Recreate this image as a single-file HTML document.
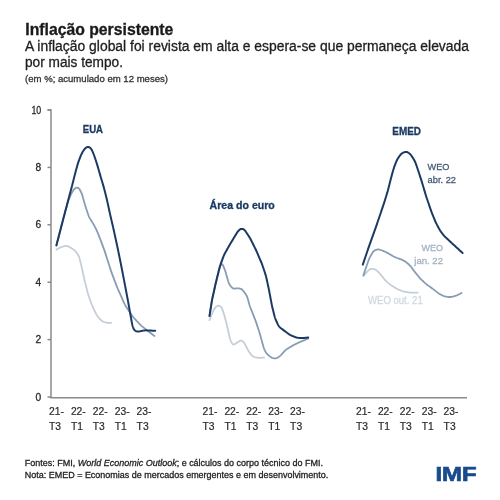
<!DOCTYPE html>
<html><head><meta charset="utf-8"><style>
html,body{margin:0;padding:0;background:#fff;width:500px;height:500px;overflow:hidden}
svg{display:block;font-family:"Liberation Sans",sans-serif;will-change:transform}
</style></head><body>
<svg width="500" height="500" viewBox="0 0 500 500">
<rect width="500" height="500" fill="#fff"/>
<path d="M47.5,110 H51 V397.8 H467" fill="none" stroke="#8a8a8a" stroke-width="1.5"/>
<path d="M47.5,110 H51" stroke="#8a8a8a" stroke-width="1.5"/><path d="M47.5,167.4 H51" stroke="#8a8a8a" stroke-width="1.5"/><path d="M47.5,224.8 H51" stroke="#8a8a8a" stroke-width="1.5"/><path d="M47.5,282.2 H51" stroke="#8a8a8a" stroke-width="1.5"/><path d="M47.5,339.6 H51" stroke="#8a8a8a" stroke-width="1.5"/><path d="M47.5,397 H51" stroke="#8a8a8a" stroke-width="1.5"/>
<path d="M56.40,249.60 L57.10,249.21 L57.79,248.81 L58.49,248.42 L59.19,248.04 L59.90,247.67 L60.62,247.33 L61.35,247.03 L62.10,246.75 L62.85,246.51 L63.62,246.29 L64.38,246.11 L65.15,245.98 L65.90,245.92 L66.65,245.97 L67.39,246.14 L68.12,246.39 L68.84,246.70 L69.54,247.06 L70.24,247.45 L70.92,247.86 L71.60,248.28 L72.27,248.72 L72.93,249.16 L73.59,249.62 L74.22,250.09 L74.82,250.60 L75.39,251.15 L75.91,251.73 L76.39,252.36 L76.86,253.01 L77.30,253.67 L77.73,254.34 L78.15,255.02 L78.53,255.71 L78.86,256.42 L79.15,257.16 L79.39,257.91 L79.61,258.68 L79.81,259.45 L80.01,260.23 L80.20,261.00 L80.39,261.78 L80.59,262.55 L80.78,263.33 L80.98,264.11 L81.17,264.88 L81.36,265.66 L81.55,266.44 L81.73,267.22 L81.90,268.00 L82.08,268.78 L82.25,269.56 L82.42,270.34 L82.58,271.12 L82.75,271.91 L82.92,272.69 L83.09,273.47 L83.25,274.25 L83.42,275.04 L83.59,275.82 L83.76,276.60 L83.93,277.38 L84.10,278.16 L84.27,278.94 L84.45,279.72 L84.64,280.50 L84.82,281.28 L85.02,282.06 L85.21,282.83 L85.40,283.61 L85.60,284.38 L85.79,285.16 L85.98,285.94 L86.18,286.71 L86.37,287.49 L86.57,288.27 L86.76,289.04 L86.95,289.82 L87.15,290.59 L87.35,291.37 L87.54,292.14 L87.75,292.92 L87.97,293.68 L88.20,294.45 L88.45,295.21 L88.71,295.97 L88.97,296.72 L89.24,297.47 L89.51,298.23 L89.78,298.98 L90.05,299.73 L90.32,300.49 L90.59,301.24 L90.86,301.99 L91.12,302.75 L91.39,303.50 L91.67,304.25 L91.94,305.00 L92.23,305.75 L92.53,306.49 L92.86,307.22 L93.19,307.94 L93.54,308.66 L93.89,309.38 L94.25,310.10 L94.61,310.81 L94.96,311.53 L95.32,312.24 L95.68,312.96 L96.05,313.67 L96.43,314.37 L96.83,315.06 L97.26,315.72 L97.72,316.37 L98.20,317.01 L98.70,317.63 L99.21,318.25 L99.73,318.85 L100.25,319.45 L100.80,320.01 L101.39,320.52 L102.02,320.98 L102.69,321.37 L103.40,321.71 L104.13,322.01 L104.87,322.27 L105.63,322.48 L106.40,322.63 L107.18,322.72 L107.97,322.77 L108.74,322.79 L109.49,322.80 L110.20,322.80 L110.87,322.80 L111.20,322.80" fill="none" stroke="#c5ced8" stroke-width="1.8" stroke-linecap="round" stroke-linejoin="round"/><path d="M209.50,320.20 L209.78,319.45 L210.07,318.70 L210.35,317.96 L210.64,317.21 L210.92,316.46 L211.21,315.71 L211.50,314.97 L211.78,314.22 L212.08,313.48 L212.39,312.75 L212.73,312.02 L213.09,311.31 L213.48,310.62 L213.88,309.93 L214.30,309.25 L214.73,308.58 L215.17,307.92 L215.65,307.31 L216.17,306.75 L216.74,306.28 L217.37,305.92 L218.03,305.71 L218.69,305.67 L219.34,305.81 L219.95,306.12 L220.52,306.57 L221.04,307.11 L221.50,307.73 L221.90,308.39 L222.23,309.10 L222.52,309.83 L222.79,310.58 L223.05,311.34 L223.30,312.10 L223.55,312.86 L223.80,313.62 L224.05,314.38 L224.29,315.14 L224.52,315.90 L224.74,316.67 L224.95,317.44 L225.15,318.22 L225.35,318.99 L225.54,319.77 L225.74,320.55 L225.93,321.32 L226.12,322.10 L226.32,322.87 L226.51,323.65 L226.71,324.43 L226.90,325.20 L227.09,325.98 L227.28,326.76 L227.46,327.54 L227.64,328.32 L227.82,329.10 L227.99,329.88 L228.17,330.66 L228.34,331.44 L228.52,332.22 L228.69,333.00 L228.86,333.78 L229.04,334.56 L229.21,335.34 L229.38,336.12 L229.56,336.90 L229.74,337.68 L229.94,338.45 L230.17,339.21 L230.43,339.97 L230.72,340.70 L231.04,341.43 L231.39,342.15 L231.75,342.84 L232.12,343.48 L232.53,344.01 L232.98,344.38 L233.49,344.52 L234.06,344.44 L234.67,344.19 L235.32,343.83 L235.97,343.41 L236.64,342.97 L237.30,342.53 L237.97,342.09 L238.63,341.65 L239.30,341.25 L239.95,340.90 L240.60,340.66 L241.23,340.60 L241.83,340.73 L242.42,341.04 L242.97,341.50 L243.50,342.05 L243.99,342.66 L244.43,343.31 L244.84,343.98 L245.22,344.68 L245.59,345.39 L245.95,346.10 L246.31,346.82 L246.67,347.53 L247.03,348.25 L247.39,348.96 L247.76,349.67 L248.15,350.36 L248.56,351.05 L249.00,351.71 L249.45,352.37 L249.92,353.02 L250.40,353.66 L250.88,354.29 L251.38,354.90 L251.91,355.47 L252.47,355.98 L253.10,356.41 L253.77,356.75 L254.50,357.02 L255.25,357.24 L256.02,357.43 L256.80,357.60 L257.58,357.72 L258.37,357.80 L259.16,357.83 L259.95,357.81 L260.74,357.77 L261.51,357.71 L262.27,357.65 L262.98,357.59 L263.67,357.53 L264.00,357.50" fill="none" stroke="#c5ced8" stroke-width="1.8" stroke-linecap="round" stroke-linejoin="round"/><path d="M363.40,276.00 L363.91,275.39 L364.43,274.77 L364.94,274.16 L365.46,273.55 L365.98,272.95 L366.52,272.35 L367.07,271.77 L367.62,271.20 L368.19,270.65 L368.77,270.13 L369.39,269.66 L370.03,269.29 L370.73,269.02 L371.46,268.86 L372.22,268.81 L372.97,268.85 L373.72,269.00 L374.45,269.23 L375.16,269.55 L375.85,269.93 L376.51,270.36 L377.13,270.84 L377.72,271.36 L378.28,271.92 L378.82,272.51 L379.34,273.11 L379.86,273.72 L380.38,274.33 L380.89,274.94 L381.40,275.56 L381.90,276.18 L382.40,276.81 L382.90,277.43 L383.40,278.05 L383.91,278.67 L384.42,279.29 L384.94,279.89 L385.48,280.48 L386.04,281.04 L386.63,281.57 L387.24,282.09 L387.85,282.60 L388.48,283.10 L389.10,283.60 L389.73,284.10 L390.36,284.59 L391.00,285.07 L391.65,285.53 L392.31,285.98 L392.98,286.41 L393.66,286.83 L394.34,287.24 L395.03,287.66 L395.72,288.06 L396.41,288.46 L397.11,288.84 L397.83,289.20 L398.55,289.54 L399.28,289.85 L400.02,290.16 L400.76,290.46 L401.51,290.75 L402.25,291.03 L403.01,291.28 L403.77,291.51 L404.54,291.70 L405.32,291.86 L406.11,292.01 L406.90,292.14 L407.69,292.27 L408.48,292.38 L409.27,292.47 L410.06,292.53 L410.86,292.57 L411.66,292.59 L412.46,292.60 L413.26,292.60 L414.06,292.60 L414.85,292.60 L415.65,292.60 L416.43,292.60 L417.21,292.60 L417.60,292.60" fill="none" stroke="#c5ced8" stroke-width="1.8" stroke-linecap="round" stroke-linejoin="round"/><path d="M56.40,245.40 L56.60,244.63 L56.80,243.85 L57.00,243.08 L57.20,242.30 L57.41,241.53 L57.61,240.75 L57.81,239.98 L58.01,239.21 L58.21,238.43 L58.41,237.66 L58.61,236.88 L58.81,236.11 L59.02,235.33 L59.22,234.56 L59.42,233.79 L59.62,233.01 L59.82,232.24 L60.02,231.46 L60.22,230.69 L60.42,229.91 L60.63,229.14 L60.83,228.37 L61.03,227.59 L61.23,226.82 L61.43,226.04 L61.63,225.27 L61.83,224.49 L62.03,223.72 L62.24,222.95 L62.44,222.17 L62.64,221.40 L62.84,220.62 L63.04,219.85 L63.24,219.07 L63.44,218.30 L63.64,217.53 L63.85,216.75 L64.05,215.98 L64.26,215.21 L64.47,214.43 L64.68,213.66 L64.89,212.89 L65.11,212.12 L65.32,211.35 L65.54,210.58 L65.75,209.81 L65.97,209.04 L66.18,208.27 L66.40,207.50 L66.62,206.73 L66.83,205.96 L67.05,205.19 L67.26,204.42 L67.48,203.65 L67.70,202.88 L67.92,202.11 L68.15,201.34 L68.40,200.58 L68.66,199.83 L68.95,199.09 L69.26,198.35 L69.58,197.62 L69.90,196.89 L70.23,196.16 L70.56,195.43 L70.89,194.70 L71.23,193.98 L71.57,193.26 L71.94,192.55 L72.32,191.85 L72.74,191.18 L73.19,190.52 L73.66,189.88 L74.16,189.27 L74.70,188.72 L75.28,188.24 L75.91,187.88 L76.57,187.66 L77.24,187.62 L77.89,187.77 L78.48,188.10 L79.00,188.58 L79.46,189.17 L79.87,189.83 L80.25,190.52 L80.61,191.23 L80.96,191.95 L81.30,192.67 L81.62,193.40 L81.92,194.14 L82.19,194.89 L82.43,195.65 L82.65,196.42 L82.87,197.19 L83.08,197.96 L83.29,198.73 L83.50,199.50 L83.71,200.27 L83.92,201.04 L84.13,201.82 L84.34,202.59 L84.56,203.36 L84.78,204.13 L85.00,204.89 L85.24,205.66 L85.48,206.42 L85.73,207.18 L85.98,207.94 L86.23,208.70 L86.49,209.46 L86.74,210.22 L86.99,210.98 L87.25,211.74 L87.50,212.49 L87.75,213.25 L88.01,214.01 L88.27,214.77 L88.54,215.52 L88.83,216.26 L89.16,216.98 L89.51,217.69 L89.90,218.39 L90.31,219.07 L90.73,219.76 L91.15,220.44 L91.57,221.11 L91.99,221.79 L92.42,222.47 L92.84,223.15 L93.25,223.84 L93.66,224.52 L94.05,225.22 L94.43,225.92 L94.80,226.63 L95.17,227.34 L95.53,228.06 L95.88,228.77 L96.23,229.49 L96.58,230.21 L96.91,230.94 L97.24,231.67 L97.55,232.41 L97.85,233.15 L98.15,233.89 L98.45,234.63 L98.75,235.37 L99.05,236.12 L99.34,236.86 L99.64,237.60 L99.94,238.34 L100.23,239.09 L100.53,239.83 L100.82,240.58 L101.10,241.32 L101.38,242.07 L101.66,242.82 L101.94,243.57 L102.21,244.33 L102.48,245.08 L102.76,245.83 L103.03,246.58 L103.30,247.33 L103.58,248.08 L103.85,248.84 L104.12,249.59 L104.39,250.34 L104.66,251.10 L104.92,251.85 L105.18,252.61 L105.43,253.37 L105.67,254.13 L105.91,254.89 L106.15,255.66 L106.40,256.42 L106.64,257.18 L106.88,257.94 L107.12,258.71 L107.36,259.47 L107.60,260.23 L107.84,261.00 L108.08,261.76 L108.32,262.52 L108.56,263.28 L108.80,264.05 L109.05,264.81 L109.29,265.57 L109.53,266.34 L109.77,267.10 L110.01,267.86 L110.25,268.62 L110.50,269.39 L110.75,270.15 L111.00,270.90 L111.27,271.66 L111.54,272.41 L111.81,273.16 L112.09,273.91 L112.37,274.66 L112.65,275.41 L112.93,276.16 L113.22,276.91 L113.50,277.66 L113.78,278.41 L114.06,279.15 L114.34,279.90 L114.62,280.65 L114.90,281.40 L115.18,282.15 L115.46,282.90 L115.74,283.65 L116.03,284.40 L116.31,285.15 L116.60,285.89 L116.89,286.63 L117.20,287.37 L117.51,288.11 L117.82,288.85 L118.15,289.58 L118.47,290.31 L118.80,291.04 L119.12,291.77 L119.45,292.50 L119.77,293.23 L120.10,293.96 L120.42,294.70 L120.75,295.43 L121.07,296.16 L121.39,296.89 L121.72,297.62 L122.04,298.35 L122.37,299.08 L122.69,299.81 L123.02,300.54 L123.34,301.27 L123.67,302.01 L124.00,302.73 L124.34,303.46 L124.69,304.18 L125.06,304.88 L125.45,305.57 L125.87,306.26 L126.30,306.93 L126.73,307.60 L127.18,308.26 L127.62,308.93 L128.06,309.60 L128.51,310.26 L128.95,310.93 L129.40,311.59 L129.84,312.26 L130.28,312.92 L130.73,313.59 L131.17,314.25 L131.62,314.92 L132.07,315.57 L132.54,316.22 L133.02,316.86 L133.53,317.47 L134.05,318.08 L134.58,318.67 L135.13,319.26 L135.67,319.84 L136.22,320.42 L136.77,321.01 L137.32,321.59 L137.87,322.17 L138.42,322.75 L138.97,323.33 L139.52,323.91 L140.08,324.48 L140.65,325.04 L141.23,325.59 L141.83,326.12 L142.44,326.63 L143.06,327.14 L143.68,327.64 L144.30,328.14 L144.93,328.64 L145.55,329.14 L146.18,329.64 L146.80,330.14 L147.43,330.64 L148.06,331.13 L148.69,331.62 L149.32,332.11 L149.96,332.59 L150.60,333.07 L151.24,333.55 L151.87,334.03 L152.50,334.50 L153.10,334.95 L153.68,335.39 L154.23,335.80 L154.50,336.00" fill="none" stroke="#889db5" stroke-width="1.8" stroke-linecap="round" stroke-linejoin="round"/><path d="M209.50,316.00 L209.62,315.21 L209.75,314.42 L209.87,313.63 L209.99,312.84 L210.12,312.05 L210.24,311.26 L210.36,310.47 L210.49,309.68 L210.61,308.89 L210.74,308.10 L210.86,307.31 L210.98,306.52 L211.11,305.72 L211.23,304.93 L211.35,304.14 L211.48,303.35 L211.60,302.56 L211.73,301.77 L211.86,300.99 L212.00,300.20 L212.16,299.41 L212.32,298.63 L212.48,297.85 L212.65,297.07 L212.83,296.28 L213.00,295.50 L213.17,294.72 L213.35,293.94 L213.52,293.16 L213.69,292.38 L213.87,291.60 L214.04,290.82 L214.21,290.04 L214.39,289.26 L214.56,288.48 L214.73,287.69 L214.91,286.91 L215.08,286.13 L215.26,285.35 L215.43,284.57 L215.60,283.79 L215.78,283.01 L215.96,282.23 L216.15,281.45 L216.34,280.68 L216.53,279.90 L216.72,279.12 L216.91,278.35 L217.11,277.57 L217.30,276.79 L217.50,276.02 L217.69,275.24 L217.88,274.47 L218.08,273.69 L218.27,272.91 L218.47,272.14 L218.66,271.36 L218.85,270.58 L219.05,269.81 L219.25,269.03 L219.45,268.26 L219.67,267.50 L219.93,266.75 L220.23,266.03 L220.57,265.36 L220.95,264.77 L221.35,264.34 L221.74,264.12 L222.12,264.18 L222.47,264.50 L222.80,265.03 L223.13,265.67 L223.44,266.38 L223.76,267.11 L224.07,267.84 L224.37,268.58 L224.67,269.33 L224.94,270.08 L225.20,270.83 L225.44,271.59 L225.67,272.36 L225.89,273.13 L226.11,273.90 L226.33,274.67 L226.55,275.44 L226.77,276.20 L226.99,276.97 L227.21,277.74 L227.43,278.51 L227.65,279.28 L227.87,280.05 L228.09,280.82 L228.32,281.58 L228.57,282.34 L228.85,283.08 L229.17,283.79 L229.55,284.48 L229.98,285.14 L230.45,285.78 L230.94,286.40 L231.45,287.00 L231.97,287.55 L232.53,288.01 L233.14,288.35 L233.80,288.52 L234.51,288.56 L235.26,288.51 L236.03,288.41 L236.81,288.32 L237.59,288.28 L238.37,288.30 L239.15,288.39 L239.90,288.55 L240.64,288.79 L241.33,289.10 L241.96,289.51 L242.53,290.01 L243.05,290.57 L243.54,291.19 L244.01,291.83 L244.48,292.47 L244.94,293.12 L245.40,293.78 L245.85,294.44 L246.27,295.11 L246.65,295.80 L246.99,296.51 L247.27,297.25 L247.52,298.00 L247.75,298.77 L247.97,299.54 L248.18,300.31 L248.39,301.08 L248.61,301.85 L248.82,302.62 L249.03,303.39 L249.25,304.16 L249.47,304.93 L249.71,305.69 L249.96,306.45 L250.23,307.20 L250.51,307.95 L250.80,308.69 L251.10,309.44 L251.39,310.18 L251.69,310.92 L251.99,311.67 L252.28,312.41 L252.58,313.15 L252.88,313.90 L253.18,314.64 L253.47,315.38 L253.77,316.12 L254.07,316.87 L254.36,317.61 L254.66,318.35 L254.95,319.10 L255.23,319.85 L255.50,320.60 L255.77,321.35 L256.03,322.11 L256.29,322.87 L256.54,323.62 L256.79,324.38 L257.05,325.14 L257.30,325.90 L257.55,326.66 L257.81,327.42 L258.06,328.18 L258.31,328.94 L258.56,329.70 L258.82,330.46 L259.06,331.22 L259.31,331.98 L259.55,332.74 L259.77,333.51 L259.99,334.28 L260.21,335.05 L260.42,335.82 L260.63,336.59 L260.84,337.36 L261.05,338.13 L261.26,338.90 L261.48,339.68 L261.69,340.45 L261.90,341.22 L262.11,341.99 L262.32,342.76 L262.53,343.54 L262.74,344.31 L262.95,345.08 L263.17,345.85 L263.39,346.62 L263.63,347.38 L263.90,348.13 L264.19,348.87 L264.50,349.60 L264.84,350.33 L265.19,351.04 L265.56,351.74 L265.96,352.42 L266.41,353.06 L266.91,353.67 L267.46,354.24 L268.03,354.78 L268.63,355.32 L269.23,355.84 L269.83,356.36 L270.45,356.85 L271.09,357.30 L271.76,357.69 L272.46,358.00 L273.20,358.23 L273.95,358.38 L274.71,358.45 L275.46,358.42 L276.19,358.27 L276.90,358.02 L277.58,357.67 L278.25,357.26 L278.90,356.82 L279.54,356.34 L280.15,355.83 L280.73,355.29 L281.29,354.73 L281.84,354.14 L282.37,353.55 L282.91,352.96 L283.44,352.36 L283.97,351.77 L284.52,351.18 L285.07,350.61 L285.65,350.08 L286.26,349.57 L286.90,349.11 L287.57,348.67 L288.24,348.24 L288.93,347.83 L289.61,347.41 L290.30,347.00 L290.98,346.60 L291.67,346.19 L292.37,345.80 L293.07,345.41 L293.77,345.03 L294.48,344.67 L295.20,344.30 L295.91,343.94 L296.63,343.59 L297.34,343.23 L298.06,342.88 L298.78,342.53 L299.51,342.19 L300.24,341.86 L300.97,341.55 L301.71,341.24 L302.45,340.94 L303.19,340.64 L303.93,340.34 L304.67,340.05 L305.41,339.74 L306.13,339.44 L306.84,339.13 L307.53,338.81 L308.20,338.50" fill="none" stroke="#889db5" stroke-width="1.8" stroke-linecap="round" stroke-linejoin="round"/><path d="M363.40,275.40 L363.65,274.64 L363.91,273.88 L364.16,273.12 L364.41,272.36 L364.66,271.61 L364.92,270.85 L365.17,270.09 L365.42,269.33 L365.68,268.57 L365.93,267.81 L366.19,267.05 L366.45,266.30 L366.71,265.54 L366.98,264.79 L367.25,264.03 L367.51,263.28 L367.78,262.53 L368.05,261.77 L368.32,261.02 L368.60,260.27 L368.88,259.52 L369.18,258.78 L369.50,258.06 L369.85,257.34 L370.22,256.63 L370.61,255.94 L371.01,255.24 L371.41,254.55 L371.82,253.86 L372.23,253.18 L372.66,252.52 L373.12,251.89 L373.63,251.32 L374.20,250.82 L374.84,250.40 L375.52,250.05 L376.24,249.76 L376.97,249.56 L377.71,249.46 L378.46,249.47 L379.22,249.58 L379.97,249.76 L380.73,249.99 L381.48,250.24 L382.23,250.52 L382.98,250.81 L383.71,251.12 L384.44,251.45 L385.16,251.79 L385.88,252.14 L386.59,252.50 L387.31,252.86 L388.02,253.23 L388.72,253.61 L389.42,253.99 L390.11,254.40 L390.80,254.81 L391.48,255.22 L392.16,255.64 L392.85,256.04 L393.55,256.43 L394.26,256.79 L394.98,257.12 L395.72,257.42 L396.46,257.72 L397.21,258.00 L397.96,258.28 L398.71,258.57 L399.46,258.85 L400.21,259.13 L400.95,259.41 L401.70,259.70 L402.43,260.01 L403.16,260.34 L403.86,260.70 L404.55,261.10 L405.23,261.52 L405.89,261.97 L406.53,262.43 L407.16,262.93 L407.76,263.45 L408.35,263.98 L408.92,264.54 L409.48,265.11 L410.03,265.69 L410.56,266.28 L411.07,266.90 L411.57,267.52 L412.05,268.16 L412.52,268.81 L412.98,269.46 L413.45,270.11 L413.92,270.75 L414.40,271.40 L414.88,272.03 L415.38,272.66 L415.88,273.28 L416.39,273.90 L416.90,274.52 L417.41,275.13 L417.92,275.75 L418.43,276.36 L418.95,276.97 L419.46,277.58 L419.99,278.19 L420.52,278.78 L421.08,279.35 L421.64,279.92 L422.22,280.46 L422.81,281.01 L423.40,281.54 L424.00,282.08 L424.59,282.61 L425.19,283.14 L425.80,283.67 L426.41,284.18 L427.03,284.68 L427.66,285.17 L428.31,285.64 L428.96,286.11 L429.61,286.57 L430.27,287.03 L430.92,287.49 L431.57,287.95 L432.22,288.42 L432.86,288.90 L433.50,289.38 L434.13,289.87 L434.76,290.37 L435.38,290.87 L436.01,291.36 L436.63,291.86 L437.27,292.35 L437.90,292.83 L438.56,293.28 L439.23,293.71 L439.92,294.11 L440.62,294.49 L441.33,294.86 L442.04,295.21 L442.76,295.56 L443.49,295.88 L444.22,296.17 L444.97,296.41 L445.74,296.59 L446.52,296.73 L447.31,296.83 L448.10,296.92 L448.89,296.98 L449.68,297.00 L450.47,296.98 L451.25,296.90 L452.02,296.76 L452.79,296.57 L453.56,296.36 L454.33,296.13 L455.09,295.89 L455.85,295.64 L456.59,295.36 L457.33,295.06 L458.06,294.74 L458.78,294.40 L459.49,294.05 L460.20,293.70 L460.90,293.35 L461.60,293.00" fill="none" stroke="#889db5" stroke-width="1.8" stroke-linecap="round" stroke-linejoin="round"/><path d="M56.40,245.40 L56.60,244.63 L56.80,243.85 L57.00,243.08 L57.20,242.30 L57.40,241.53 L57.60,240.75 L57.80,239.98 L58.00,239.20 L58.21,238.43 L58.41,237.66 L58.61,236.88 L58.81,236.11 L59.01,235.33 L59.21,234.56 L59.41,233.78 L59.61,233.01 L59.81,232.23 L60.01,231.46 L60.21,230.69 L60.41,229.91 L60.62,229.14 L60.82,228.36 L61.02,227.59 L61.22,226.82 L61.42,226.04 L61.62,225.27 L61.83,224.49 L62.03,223.72 L62.23,222.94 L62.43,222.17 L62.63,221.40 L62.83,220.62 L63.04,219.85 L63.24,219.07 L63.44,218.30 L63.64,217.53 L63.84,216.75 L64.05,215.98 L64.25,215.20 L64.45,214.43 L64.65,213.66 L64.86,212.88 L65.06,212.11 L65.26,211.33 L65.47,210.56 L65.67,209.79 L65.87,209.01 L66.07,208.24 L66.28,207.47 L66.48,206.69 L66.68,205.92 L66.89,205.14 L67.09,204.37 L67.29,203.60 L67.50,202.82 L67.70,202.05 L67.90,201.27 L68.11,200.50 L68.31,199.73 L68.52,198.95 L68.72,198.18 L68.93,197.41 L69.14,196.64 L69.34,195.86 L69.55,195.09 L69.76,194.32 L69.97,193.55 L70.18,192.77 L70.38,192.00 L70.59,191.23 L70.80,190.46 L71.01,189.68 L71.22,188.91 L71.42,188.14 L71.63,187.37 L71.83,186.59 L72.04,185.82 L72.23,185.04 L72.43,184.27 L72.63,183.49 L72.82,182.72 L73.02,181.94 L73.21,181.16 L73.40,180.39 L73.60,179.61 L73.79,178.84 L73.99,178.06 L74.18,177.28 L74.37,176.51 L74.57,175.73 L74.77,174.96 L74.97,174.18 L75.17,173.41 L75.38,172.63 L75.58,171.86 L75.79,171.09 L76.00,170.32 L76.21,169.55 L76.43,168.77 L76.64,168.00 L76.85,167.23 L77.06,166.46 L77.27,165.69 L77.48,164.92 L77.71,164.15 L77.94,163.39 L78.18,162.62 L78.44,161.87 L78.71,161.12 L78.99,160.37 L79.27,159.62 L79.55,158.87 L79.83,158.12 L80.12,157.37 L80.41,156.63 L80.71,155.89 L81.03,155.15 L81.37,154.43 L81.72,153.72 L82.09,153.01 L82.47,152.31 L82.86,151.61 L83.27,150.92 L83.69,150.25 L84.15,149.61 L84.65,148.99 L85.18,148.42 L85.76,147.91 L86.38,147.49 L87.04,147.18 L87.73,147.03 L88.42,147.05 L89.10,147.24 L89.74,147.59 L90.32,148.05 L90.84,148.61 L91.32,149.23 L91.74,149.89 L92.13,150.58 L92.47,151.30 L92.79,152.03 L93.10,152.76 L93.39,153.51 L93.68,154.25 L93.96,155.00 L94.23,155.76 L94.50,156.51 L94.75,157.27 L95.01,158.03 L95.26,158.78 L95.51,159.54 L95.77,160.30 L96.02,161.06 L96.27,161.82 L96.52,162.58 L96.77,163.34 L97.00,164.11 L97.24,164.87 L97.46,165.64 L97.69,166.41 L97.91,167.18 L98.13,167.94 L98.35,168.71 L98.57,169.48 L98.79,170.25 L99.01,171.02 L99.23,171.79 L99.45,172.56 L99.67,173.33 L99.89,174.10 L100.11,174.87 L100.34,175.63 L100.56,176.40 L100.79,177.17 L101.02,177.93 L101.24,178.70 L101.47,179.47 L101.70,180.24 L101.93,181.00 L102.15,181.77 L102.38,182.54 L102.61,183.30 L102.84,184.07 L103.06,184.84 L103.29,185.61 L103.51,186.37 L103.73,187.14 L103.95,187.91 L104.16,188.69 L104.36,189.46 L104.56,190.23 L104.75,191.01 L104.95,191.79 L105.14,192.56 L105.33,193.34 L105.53,194.11 L105.72,194.89 L105.92,195.67 L106.11,196.44 L106.30,197.22 L106.50,198.00 L106.69,198.77 L106.87,199.55 L107.05,200.33 L107.23,201.11 L107.40,201.89 L107.57,202.67 L107.74,203.45 L107.91,204.24 L108.08,205.02 L108.25,205.80 L108.42,206.58 L108.59,207.36 L108.75,208.15 L108.92,208.93 L109.09,209.71 L109.26,210.49 L109.43,211.27 L109.60,212.06 L109.77,212.84 L109.95,213.62 L110.13,214.40 L110.30,215.18 L110.48,215.96 L110.66,216.74 L110.84,217.52 L111.02,218.29 L111.20,219.07 L111.38,219.85 L111.57,220.63 L111.75,221.41 L111.93,222.19 L112.11,222.97 L112.29,223.75 L112.47,224.53 L112.65,225.31 L112.83,226.09 L113.01,226.87 L113.19,227.65 L113.36,228.43 L113.54,229.21 L113.71,229.99 L113.89,230.77 L114.06,231.55 L114.23,232.33 L114.40,233.12 L114.57,233.90 L114.74,234.68 L114.91,235.46 L115.08,236.24 L115.25,237.02 L115.43,237.80 L115.60,238.59 L115.77,239.37 L115.94,240.15 L116.11,240.93 L116.28,241.71 L116.45,242.49 L116.62,243.28 L116.79,244.06 L116.96,244.84 L117.12,245.62 L117.29,246.41 L117.45,247.19 L117.61,247.97 L117.77,248.76 L117.93,249.54 L118.10,250.32 L118.26,251.11 L118.42,251.89 L118.58,252.67 L118.74,253.46 L118.90,254.24 L119.06,255.02 L119.23,255.81 L119.39,256.59 L119.55,257.37 L119.71,258.16 L119.87,258.94 L120.03,259.73 L120.19,260.51 L120.35,261.29 L120.51,262.08 L120.66,262.86 L120.82,263.65 L120.97,264.43 L121.13,265.22 L121.28,266.00 L121.43,266.79 L121.58,267.57 L121.74,268.36 L121.89,269.14 L122.04,269.93 L122.19,270.71 L122.35,271.50 L122.50,272.28 L122.65,273.07 L122.81,273.86 L122.96,274.64 L123.11,275.43 L123.26,276.21 L123.42,277.00 L123.57,277.78 L123.72,278.57 L123.87,279.35 L124.02,280.14 L124.17,280.92 L124.33,281.71 L124.48,282.50 L124.63,283.28 L124.77,284.07 L124.92,284.85 L125.07,285.64 L125.22,286.42 L125.37,287.21 L125.52,288.00 L125.67,288.78 L125.82,289.57 L125.97,290.35 L126.12,291.14 L126.27,291.93 L126.42,292.71 L126.57,293.50 L126.72,294.28 L126.87,295.07 L127.02,295.86 L127.17,296.64 L127.32,297.43 L127.47,298.21 L127.62,299.00 L127.77,299.79 L127.91,300.57 L128.06,301.36 L128.20,302.15 L128.34,302.93 L128.48,303.72 L128.62,304.51 L128.76,305.30 L128.90,306.08 L129.04,306.87 L129.18,307.66 L129.31,308.45 L129.45,309.24 L129.59,310.02 L129.73,310.81 L129.87,311.60 L130.01,312.39 L130.15,313.17 L130.29,313.96 L130.43,314.75 L130.57,315.54 L130.71,316.33 L130.85,317.11 L130.99,317.90 L131.13,318.69 L131.28,319.47 L131.42,320.26 L131.57,321.05 L131.72,321.83 L131.87,322.62 L132.02,323.40 L132.18,324.19 L132.35,324.97 L132.54,325.74 L132.76,326.51 L133.02,327.26 L133.30,328.00 L133.62,328.71 L134.00,329.38 L134.45,329.99 L134.98,330.51 L135.59,330.92 L136.27,331.21 L136.99,331.38 L137.75,331.45 L138.53,331.45 L139.31,331.38 L140.10,331.27 L140.88,331.12 L141.66,330.95 L142.44,330.78 L143.22,330.62 L144.00,330.48 L144.78,330.40 L145.57,330.36 L146.36,330.36 L147.16,330.40 L147.96,330.44 L148.76,330.50 L149.55,330.54 L150.35,330.58 L151.15,330.61 L151.94,330.63 L152.72,330.65 L153.48,330.67 L154.19,330.68 L154.87,330.69 L155.20,330.70" fill="none" stroke="#1b3a63" stroke-width="2.0" stroke-linecap="round" stroke-linejoin="round"/><path d="M209.50,316.00 L209.62,315.21 L209.75,314.42 L209.87,313.63 L209.99,312.84 L210.12,312.05 L210.24,311.26 L210.36,310.47 L210.49,309.68 L210.61,308.89 L210.74,308.10 L210.86,307.31 L210.98,306.52 L211.11,305.72 L211.23,304.93 L211.35,304.14 L211.48,303.35 L211.60,302.56 L211.73,301.77 L211.86,300.99 L212.00,300.20 L212.16,299.41 L212.32,298.63 L212.48,297.85 L212.65,297.07 L212.83,296.28 L213.00,295.50 L213.17,294.72 L213.35,293.94 L213.52,293.16 L213.69,292.38 L213.87,291.60 L214.04,290.82 L214.21,290.04 L214.39,289.26 L214.56,288.48 L214.73,287.69 L214.91,286.91 L215.08,286.13 L215.26,285.35 L215.43,284.57 L215.60,283.79 L215.78,283.01 L215.96,282.23 L216.15,281.45 L216.34,280.68 L216.53,279.90 L216.72,279.12 L216.91,278.35 L217.11,277.57 L217.30,276.79 L217.50,276.02 L217.69,275.24 L217.88,274.47 L218.08,273.69 L218.27,272.91 L218.47,272.14 L218.66,271.36 L218.85,270.58 L219.05,269.81 L219.24,269.03 L219.44,268.26 L219.64,267.48 L219.86,266.71 L220.08,265.95 L220.33,265.19 L220.58,264.43 L220.85,263.68 L221.12,262.92 L221.39,262.17 L221.67,261.42 L221.94,260.67 L222.21,259.92 L222.49,259.16 L222.76,258.41 L223.04,257.66 L223.32,256.91 L223.61,256.17 L223.92,255.43 L224.25,254.71 L224.60,253.99 L224.97,253.28 L225.35,252.58 L225.73,251.88 L226.12,251.18 L226.51,250.48 L226.90,249.78 L227.29,249.08 L227.68,248.38 L228.07,247.69 L228.46,246.99 L228.86,246.29 L229.26,245.60 L229.66,244.91 L230.07,244.22 L230.48,243.54 L230.89,242.85 L231.30,242.16 L231.71,241.48 L232.13,240.79 L232.54,240.11 L232.95,239.42 L233.36,238.73 L233.77,238.05 L234.18,237.36 L234.59,236.68 L235.01,235.99 L235.42,235.30 L235.83,234.62 L236.24,233.93 L236.66,233.25 L237.09,232.58 L237.54,231.92 L238.02,231.30 L238.53,230.70 L239.09,230.16 L239.69,229.67 L240.31,229.27 L240.98,229.00 L241.67,228.87 L242.37,228.89 L243.05,229.07 L243.70,229.39 L244.28,229.84 L244.80,230.38 L245.28,230.99 L245.74,231.63 L246.19,232.29 L246.64,232.95 L247.08,233.62 L247.52,234.29 L247.97,234.95 L248.41,235.62 L248.85,236.29 L249.28,236.96 L249.70,237.64 L250.10,238.33 L250.48,239.03 L250.86,239.74 L251.22,240.45 L251.58,241.16 L251.94,241.88 L252.30,242.59 L252.65,243.31 L253.01,244.02 L253.37,244.74 L253.73,245.46 L254.09,246.17 L254.44,246.89 L254.80,247.60 L255.15,248.32 L255.50,249.04 L255.85,249.76 L256.18,250.49 L256.51,251.22 L256.83,251.95 L257.15,252.68 L257.46,253.42 L257.78,254.15 L258.10,254.89 L258.41,255.62 L258.73,256.36 L259.04,257.09 L259.36,257.83 L259.67,258.57 L259.99,259.30 L260.30,260.04 L260.62,260.77 L260.93,261.51 L261.24,262.24 L261.54,262.98 L261.84,263.73 L262.12,264.47 L262.39,265.23 L262.65,265.98 L262.91,266.74 L263.17,267.50 L263.42,268.26 L263.67,269.02 L263.92,269.77 L264.18,270.53 L264.43,271.29 L264.68,272.05 L264.94,272.81 L265.19,273.57 L265.43,274.33 L265.67,275.10 L265.89,275.86 L266.09,276.63 L266.28,277.41 L266.46,278.19 L266.63,278.97 L266.80,279.75 L266.97,280.54 L267.14,281.32 L267.31,282.10 L267.47,282.88 L267.64,283.66 L267.81,284.45 L267.98,285.23 L268.15,286.01 L268.31,286.79 L268.48,287.58 L268.65,288.36 L268.81,289.14 L268.97,289.93 L269.12,290.71 L269.28,291.50 L269.43,292.28 L269.57,293.07 L269.72,293.85 L269.87,294.64 L270.02,295.43 L270.16,296.21 L270.31,297.00 L270.46,297.78 L270.61,298.57 L270.75,299.36 L270.90,300.14 L271.05,300.93 L271.20,301.72 L271.34,302.50 L271.49,303.29 L271.64,304.07 L271.80,304.86 L271.96,305.64 L272.13,306.42 L272.31,307.20 L272.50,307.98 L272.69,308.76 L272.88,309.53 L273.08,310.31 L273.27,311.09 L273.47,311.86 L273.66,312.64 L273.85,313.41 L274.05,314.19 L274.24,314.96 L274.44,315.74 L274.65,316.51 L274.88,317.28 L275.13,318.03 L275.40,318.78 L275.70,319.52 L276.01,320.26 L276.32,320.99 L276.65,321.72 L276.97,322.46 L277.29,323.19 L277.62,323.91 L277.97,324.63 L278.33,325.33 L278.75,325.99 L279.22,326.60 L279.75,327.17 L280.33,327.69 L280.95,328.19 L281.58,328.68 L282.22,329.16 L282.86,329.64 L283.50,330.12 L284.14,330.60 L284.78,331.08 L285.42,331.56 L286.06,332.04 L286.70,332.52 L287.34,333.00 L287.98,333.47 L288.63,333.94 L289.29,334.38 L289.97,334.79 L290.67,335.17 L291.38,335.51 L292.11,335.83 L292.85,336.14 L293.59,336.44 L294.34,336.73 L295.08,337.01 L295.83,337.27 L296.59,337.49 L297.36,337.66 L298.14,337.79 L298.93,337.88 L299.73,337.93 L300.53,337.98 L301.32,338.00 L302.12,338.01 L302.92,337.99 L303.72,337.94 L304.51,337.88 L305.29,337.81 L306.06,337.73 L306.81,337.65 L307.51,337.57 L308.20,337.50" fill="none" stroke="#1b3a63" stroke-width="2.0" stroke-linecap="round" stroke-linejoin="round"/><path d="M362.80,264.60 L363.06,263.84 L363.32,263.09 L363.57,262.33 L363.83,261.57 L364.09,260.81 L364.35,260.06 L364.61,259.30 L364.86,258.54 L365.12,257.78 L365.38,257.03 L365.64,256.27 L365.90,255.51 L366.15,254.76 L366.41,254.00 L366.67,253.24 L366.93,252.48 L367.19,251.73 L367.44,250.97 L367.70,250.21 L367.96,249.45 L368.22,248.70 L368.48,247.94 L368.74,247.18 L369.00,246.43 L369.26,245.67 L369.53,244.92 L369.80,244.17 L370.07,243.41 L370.34,242.66 L370.61,241.91 L370.87,241.15 L371.14,240.40 L371.41,239.64 L371.68,238.89 L371.95,238.14 L372.22,237.38 L372.49,236.63 L372.76,235.88 L373.03,235.12 L373.30,234.37 L373.57,233.62 L373.83,232.86 L374.10,232.11 L374.37,231.36 L374.64,230.60 L374.91,229.85 L375.18,229.10 L375.45,228.34 L375.71,227.59 L375.98,226.83 L376.24,226.08 L376.50,225.32 L376.76,224.57 L377.02,223.81 L377.28,223.05 L377.54,222.29 L377.80,221.54 L378.06,220.78 L378.31,220.02 L378.57,219.27 L378.83,218.51 L379.09,217.75 L379.35,217.00 L379.61,216.24 L379.86,215.48 L380.12,214.72 L380.38,213.97 L380.63,213.21 L380.89,212.45 L381.14,211.69 L381.40,210.93 L381.65,210.17 L381.91,209.42 L382.16,208.66 L382.42,207.90 L382.67,207.14 L382.93,206.38 L383.18,205.62 L383.44,204.87 L383.69,204.11 L383.94,203.35 L384.19,202.59 L384.44,201.83 L384.68,201.06 L384.91,200.30 L385.15,199.53 L385.38,198.77 L385.62,198.00 L385.85,197.24 L386.08,196.47 L386.31,195.71 L386.55,194.94 L386.78,194.18 L387.01,193.41 L387.24,192.65 L387.47,191.88 L387.70,191.11 L387.91,190.34 L388.12,189.57 L388.32,188.80 L388.52,188.02 L388.72,187.25 L388.91,186.47 L389.11,185.69 L389.31,184.92 L389.50,184.14 L389.70,183.37 L389.89,182.59 L390.09,181.82 L390.28,181.04 L390.48,180.26 L390.67,179.49 L390.87,178.71 L391.07,177.94 L391.27,177.16 L391.48,176.39 L391.69,175.62 L391.91,174.85 L392.12,174.08 L392.34,173.31 L392.55,172.54 L392.77,171.77 L392.99,171.00 L393.21,170.23 L393.43,169.46 L393.66,168.69 L393.90,167.93 L394.15,167.18 L394.42,166.42 L394.71,165.68 L395.00,164.93 L395.30,164.19 L395.60,163.45 L395.90,162.71 L396.20,161.97 L396.51,161.23 L396.83,160.50 L397.16,159.78 L397.53,159.07 L397.93,158.38 L398.36,157.71 L398.80,157.05 L399.26,156.40 L399.73,155.75 L400.21,155.12 L400.72,154.52 L401.26,153.97 L401.86,153.48 L402.50,153.06 L403.19,152.69 L403.90,152.37 L404.63,152.11 L405.35,151.94 L406.06,151.89 L406.75,151.99 L407.44,152.23 L408.11,152.58 L408.76,152.99 L409.39,153.46 L409.99,153.97 L410.53,154.53 L411.04,155.13 L411.50,155.77 L411.94,156.43 L412.37,157.11 L412.79,157.78 L413.21,158.46 L413.63,159.15 L414.03,159.83 L414.42,160.53 L414.77,161.24 L415.10,161.97 L415.40,162.71 L415.69,163.45 L415.97,164.20 L416.25,164.95 L416.52,165.70 L416.79,166.46 L417.05,167.21 L417.31,167.97 L417.56,168.73 L417.82,169.49 L418.07,170.25 L418.32,171.01 L418.57,171.77 L418.82,172.53 L419.07,173.29 L419.32,174.05 L419.57,174.81 L419.82,175.57 L420.06,176.33 L420.31,177.09 L420.56,177.85 L420.81,178.61 L421.06,179.37 L421.31,180.13 L421.55,180.89 L421.78,181.66 L422.02,182.42 L422.25,183.19 L422.48,183.95 L422.70,184.72 L422.93,185.49 L423.16,186.26 L423.39,187.02 L423.61,187.79 L423.84,188.56 L424.07,189.32 L424.30,190.09 L424.53,190.86 L424.75,191.62 L424.98,192.39 L425.21,193.16 L425.44,193.92 L425.67,194.69 L425.90,195.46 L426.14,196.22 L426.38,196.98 L426.63,197.74 L426.89,198.50 L427.14,199.26 L427.40,200.01 L427.66,200.77 L427.92,201.53 L428.18,202.28 L428.44,203.04 L428.70,203.80 L428.95,204.56 L429.21,205.31 L429.47,206.07 L429.73,206.83 L429.99,207.58 L430.25,208.34 L430.51,209.10 L430.77,209.85 L431.03,210.61 L431.30,211.36 L431.58,212.11 L431.87,212.86 L432.16,213.60 L432.46,214.34 L432.76,215.08 L433.06,215.82 L433.37,216.57 L433.67,217.31 L433.97,218.05 L434.28,218.79 L434.58,219.53 L434.88,220.27 L435.19,221.01 L435.50,221.74 L435.83,222.47 L436.16,223.20 L436.52,223.91 L436.88,224.63 L437.25,225.33 L437.62,226.04 L438.00,226.75 L438.38,227.45 L438.76,228.16 L439.14,228.86 L439.54,229.55 L439.95,230.23 L440.38,230.90 L440.83,231.56 L441.30,232.21 L441.78,232.85 L442.26,233.49 L442.75,234.12 L443.25,234.75 L443.76,235.36 L444.29,235.95 L444.84,236.53 L445.41,237.09 L445.98,237.64 L446.57,238.19 L447.15,238.74 L447.73,239.28 L448.32,239.83 L448.90,240.38 L449.49,240.92 L450.07,241.47 L450.66,242.01 L451.24,242.56 L451.83,243.11 L452.41,243.65 L453.00,244.19 L453.59,244.74 L454.18,245.28 L454.77,245.82 L455.36,246.36 L455.95,246.90 L456.54,247.44 L457.13,247.98 L457.72,248.52 L458.30,249.06 L458.89,249.60 L459.48,250.14 L460.07,250.68 L460.65,251.22 L461.23,251.74 L461.79,252.25 L462.33,252.75 L462.60,253.00" fill="none" stroke="#1b3a63" stroke-width="2.0" stroke-linecap="round" stroke-linejoin="round"/>
<text x="25.3" y="34.6" font-size="15.6" font-weight="bold" fill="#1a1a1a" stroke="#1a1a1a" stroke-width="0.3" font-style="normal" textLength="148" lengthAdjust="spacingAndGlyphs">Inflação persistente</text><text x="25" y="51.4" font-size="13.8" font-weight="normal" fill="#1f1f1f" stroke="#1f1f1f" stroke-width="0.3" font-style="normal" textLength="444" lengthAdjust="spacingAndGlyphs">A inflação global foi revista em alta e espera-se que permaneça elevada</text><text x="25" y="66.8" font-size="13.8" font-weight="normal" fill="#1f1f1f" stroke="#1f1f1f" stroke-width="0.3" font-style="normal" textLength="98" lengthAdjust="spacingAndGlyphs">por mais tempo.</text><text x="25" y="81.8" font-size="9.6" font-weight="normal" fill="#333" stroke="#333" stroke-width="0.3" font-style="normal" textLength="143" lengthAdjust="spacingAndGlyphs">(em %; acumulado em 12 meses)</text><text x="41.2" y="113.6" font-size="10.2" fill="#2b2b2b" stroke="#2b2b2b" stroke-width="0.3" text-anchor="end" textLength="9.8" lengthAdjust="spacingAndGlyphs">10</text><text x="41.2" y="171.0" font-size="10.2" fill="#2b2b2b" stroke="#2b2b2b" stroke-width="0.3" text-anchor="end">8</text><text x="41.2" y="228.4" font-size="10.2" fill="#2b2b2b" stroke="#2b2b2b" stroke-width="0.3" text-anchor="end">6</text><text x="41.2" y="285.8" font-size="10.2" fill="#2b2b2b" stroke="#2b2b2b" stroke-width="0.3" text-anchor="end">4</text><text x="41.2" y="343.20000000000005" font-size="10.2" fill="#2b2b2b" stroke="#2b2b2b" stroke-width="0.3" text-anchor="end">2</text><text x="41.2" y="400.6" font-size="10.2" fill="#2b2b2b" stroke="#2b2b2b" stroke-width="0.3" text-anchor="end">0</text><text x="49.0" y="415.3" font-size="10.3" fill="#2b2b2b" stroke="#2b2b2b" stroke-width="0.2">21-</text><text x="49.0" y="430.4" font-size="10.3" fill="#2b2b2b" stroke="#2b2b2b" stroke-width="0.2">T3</text><text x="70.9" y="415.3" font-size="10.3" fill="#2b2b2b" stroke="#2b2b2b" stroke-width="0.2">22-</text><text x="70.9" y="430.4" font-size="10.3" fill="#2b2b2b" stroke="#2b2b2b" stroke-width="0.2">T1</text><text x="92.8" y="415.3" font-size="10.3" fill="#2b2b2b" stroke="#2b2b2b" stroke-width="0.2">22-</text><text x="92.8" y="430.4" font-size="10.3" fill="#2b2b2b" stroke="#2b2b2b" stroke-width="0.2">T3</text><text x="114.7" y="415.3" font-size="10.3" fill="#2b2b2b" stroke="#2b2b2b" stroke-width="0.2">23-</text><text x="114.7" y="430.4" font-size="10.3" fill="#2b2b2b" stroke="#2b2b2b" stroke-width="0.2">T1</text><text x="136.6" y="415.3" font-size="10.3" fill="#2b2b2b" stroke="#2b2b2b" stroke-width="0.2">23-</text><text x="136.6" y="430.4" font-size="10.3" fill="#2b2b2b" stroke="#2b2b2b" stroke-width="0.2">T3</text><text x="202.5" y="415.3" font-size="10.3" fill="#2b2b2b" stroke="#2b2b2b" stroke-width="0.2">21-</text><text x="202.5" y="430.4" font-size="10.3" fill="#2b2b2b" stroke="#2b2b2b" stroke-width="0.2">T3</text><text x="224.4" y="415.3" font-size="10.3" fill="#2b2b2b" stroke="#2b2b2b" stroke-width="0.2">22-</text><text x="224.4" y="430.4" font-size="10.3" fill="#2b2b2b" stroke="#2b2b2b" stroke-width="0.2">T1</text><text x="246.3" y="415.3" font-size="10.3" fill="#2b2b2b" stroke="#2b2b2b" stroke-width="0.2">22-</text><text x="246.3" y="430.4" font-size="10.3" fill="#2b2b2b" stroke="#2b2b2b" stroke-width="0.2">T3</text><text x="268.2" y="415.3" font-size="10.3" fill="#2b2b2b" stroke="#2b2b2b" stroke-width="0.2">23-</text><text x="268.2" y="430.4" font-size="10.3" fill="#2b2b2b" stroke="#2b2b2b" stroke-width="0.2">T1</text><text x="290.1" y="415.3" font-size="10.3" fill="#2b2b2b" stroke="#2b2b2b" stroke-width="0.2">23-</text><text x="290.1" y="430.4" font-size="10.3" fill="#2b2b2b" stroke="#2b2b2b" stroke-width="0.2">T3</text><text x="356.0" y="415.3" font-size="10.3" fill="#2b2b2b" stroke="#2b2b2b" stroke-width="0.2">21-</text><text x="356.0" y="430.4" font-size="10.3" fill="#2b2b2b" stroke="#2b2b2b" stroke-width="0.2">T3</text><text x="377.9" y="415.3" font-size="10.3" fill="#2b2b2b" stroke="#2b2b2b" stroke-width="0.2">22-</text><text x="377.9" y="430.4" font-size="10.3" fill="#2b2b2b" stroke="#2b2b2b" stroke-width="0.2">T1</text><text x="399.8" y="415.3" font-size="10.3" fill="#2b2b2b" stroke="#2b2b2b" stroke-width="0.2">22-</text><text x="399.8" y="430.4" font-size="10.3" fill="#2b2b2b" stroke="#2b2b2b" stroke-width="0.2">T3</text><text x="421.7" y="415.3" font-size="10.3" fill="#2b2b2b" stroke="#2b2b2b" stroke-width="0.2">23-</text><text x="421.7" y="430.4" font-size="10.3" fill="#2b2b2b" stroke="#2b2b2b" stroke-width="0.2">T1</text><text x="443.6" y="415.3" font-size="10.3" fill="#2b2b2b" stroke="#2b2b2b" stroke-width="0.2">23-</text><text x="443.6" y="430.4" font-size="10.3" fill="#2b2b2b" stroke="#2b2b2b" stroke-width="0.2">T3</text><text x="82.8" y="133.2" font-size="10.2" font-weight="bold" fill="#1b3a63" stroke="#1b3a63" stroke-width="0.3" font-style="normal" textLength="20.2" lengthAdjust="spacingAndGlyphs">EUA</text><text x="209.6" y="208.9" font-size="10" font-weight="bold" fill="#1b3a63" stroke="#1b3a63" stroke-width="0.3" font-style="normal" textLength="65.2" lengthAdjust="spacingAndGlyphs">Área do euro</text><text x="392.3" y="134.8" font-size="10.2" font-weight="bold" fill="#1b3a63" stroke="#1b3a63" stroke-width="0.3" font-style="normal" textLength="28.6" lengthAdjust="spacingAndGlyphs">EMED</text><text x="427.6" y="170.1" font-size="9.9" font-weight="normal" fill="#465a78" stroke="#465a78" stroke-width="0.3" font-style="normal" textLength="21.9" lengthAdjust="spacingAndGlyphs">WEO</text><text x="427.6" y="183.1" font-size="9.9" font-weight="normal" fill="#465a78" stroke="#465a78" stroke-width="0.3" font-style="normal" textLength="28.4" lengthAdjust="spacingAndGlyphs">abr. 22</text><text x="421.5" y="251" font-size="9.9" font-weight="normal" fill="#a4b2c2" stroke="#a4b2c2" stroke-width="0.3" font-style="normal" textLength="21.5" lengthAdjust="spacingAndGlyphs">WEO</text><text x="414.3" y="263.6" font-size="9.9" font-weight="normal" fill="#a4b2c2" stroke="#a4b2c2" stroke-width="0.3" font-style="normal" textLength="28.7" lengthAdjust="spacingAndGlyphs">jan. 22</text><text x="368" y="303.7" font-size="10" font-weight="normal" fill="#d0d8e0" stroke="#d0d8e0" stroke-width="0.3" font-style="normal" textLength="54.7" lengthAdjust="spacingAndGlyphs">WEO out. 21</text><text x="24.8" y="465.6" font-size="9.5" fill="#222" stroke="#222" stroke-width="0.3" textLength="298.2" lengthAdjust="spacingAndGlyphs">Fontes: FMI, <tspan font-style="italic">World Economic Outlook</tspan>; e cálculos do corpo técnico do FMI.</text><text x="24.8" y="477.6" font-size="9.5" font-weight="normal" fill="#222" stroke="#222" stroke-width="0.3" font-style="normal" textLength="303.5" lengthAdjust="spacingAndGlyphs">Nota: EMED = Economias de mercados emergentes e em desenvolvimento.</text><text x="435.4" y="480.6" font-size="21" font-weight="bold" fill="#184b8e" stroke="#184b8e" stroke-width="0.7" font-style="normal" textLength="41.2" lengthAdjust="spacingAndGlyphs">IMF</text>
</svg>
</body></html>
